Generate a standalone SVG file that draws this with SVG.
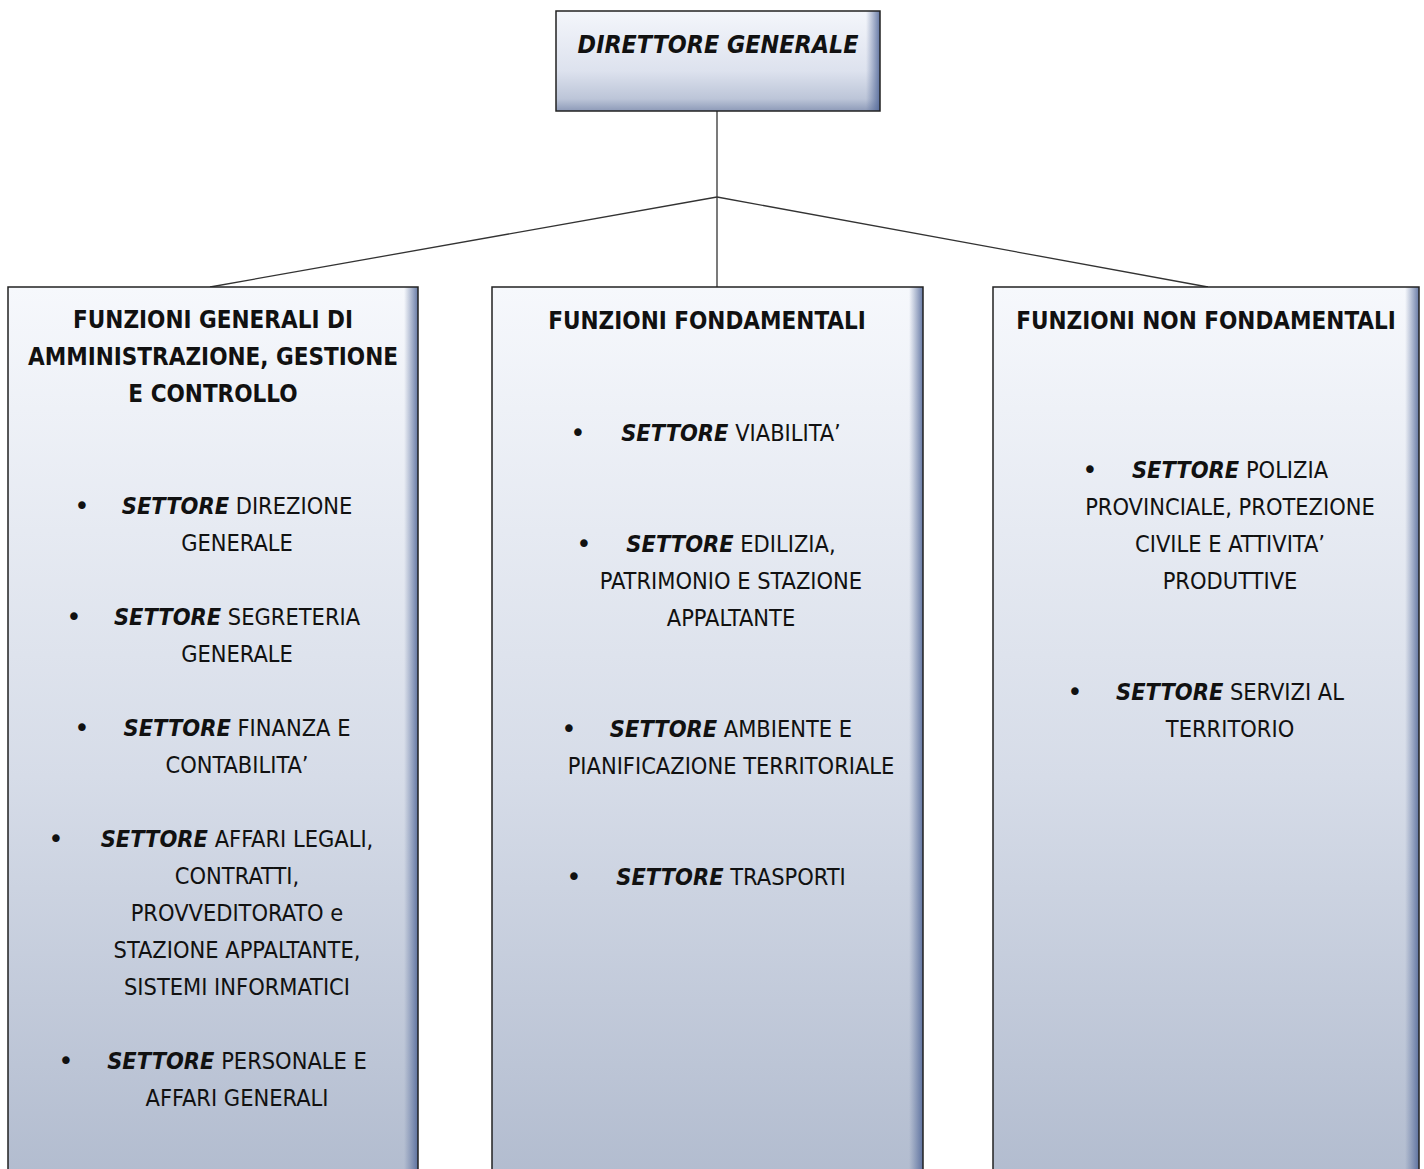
<svg xmlns="http://www.w3.org/2000/svg" width="1424" height="1169" viewBox="0 0 1424 1169">
<defs>
<linearGradient id="gv" x1="0" y1="0" x2="0" y2="1">
<stop offset="0" stop-color="#f6f8fc"/>
<stop offset="0.55" stop-color="#d6dce8"/>
<stop offset="1" stop-color="#b2bccf"/>
</linearGradient>
<linearGradient id="gvt" x1="0" y1="0" x2="0" y2="1">
<stop offset="0" stop-color="#f4f6fb"/>
<stop offset="0.6" stop-color="#dde2ee"/>
<stop offset="0.88" stop-color="#bcc5d8"/>
<stop offset="1" stop-color="#8d9ab8"/>
</linearGradient>
<linearGradient id="gr" x1="0" y1="0" x2="1" y2="0">
<stop offset="0" stop-color="#5a6f9c" stop-opacity="0"/>
<stop offset="1" stop-color="#4d6396" stop-opacity="0.85"/>
</linearGradient>
<style>
.box{stroke:#222;stroke-width:1.5}
.t{font-family:"DejaVu Sans Condensed","DejaVu Sans",sans-serif;font-size:23.4px;fill:#111;text-anchor:middle}
.h{font-weight:bold;font-size:24px}
.i{font-style:italic;font-weight:bold}
.ti{font-size:24.8px}
.b{font-family:"DejaVu Sans",sans-serif;font-size:26px;fill:#111;text-anchor:middle}
.c{stroke:#333;stroke-width:1.3;fill:none}
</style>
</defs>
<g id="connectors">
<line class="c" x1="717" y1="111" x2="717" y2="197"/>
<line class="c" x1="717" y1="197" x2="210" y2="287"/>
<line class="c" x1="717" y1="197" x2="717" y2="287"/>
<line class="c" x1="717" y1="197" x2="1208" y2="287"/>
</g>
<g id="direttore">
<rect x="556" y="11" width="324" height="100" fill="url(#gvt)"/>
<rect x="866" y="11" width="14" height="100" fill="url(#gr)"/>
<rect class="box" x="556" y="11" width="324" height="100" fill="none"/>
<text class="t i ti" x="718" y="53">DIRETTORE GENERALE</text>
</g>
<g id="funzioni-generali">
<rect x="8" y="287" width="410" height="890" fill="url(#gv)"/>
<rect x="404" y="287" width="14" height="890" fill="url(#gr)"/>
<rect class="box" x="8" y="287" width="410" height="890" fill="none"/>
<text class="t h" x="213" y="328">FUNZIONI GENERALI DI</text>
<text class="t h" x="213" y="365">AMMINISTRAZIONE, GESTIONE</text>
<text class="t h" x="213" y="402">E CONTROLLO</text>
<text class="b" x="82" y="515">•</text>
<text class="t" x="237" y="514"><tspan class="i">SETTORE</tspan> DIREZIONE</text>
<text class="t" x="237" y="551">GENERALE</text>
<text class="b" x="74" y="626">•</text>
<text class="t" x="237" y="625"><tspan class="i">SETTORE</tspan> SEGRETERIA</text>
<text class="t" x="237" y="662">GENERALE</text>
<text class="b" x="82" y="737">•</text>
<text class="t" x="237" y="736"><tspan class="i">SETTORE</tspan> FINANZA E</text>
<text class="t" x="237" y="773">CONTABILITA’</text>
<text class="b" x="56" y="848">•</text>
<text class="t" x="237" y="847"><tspan class="i">SETTORE</tspan> AFFARI LEGALI,</text>
<text class="t" x="237" y="884">CONTRATTI,</text>
<text class="t" x="237" y="921">PROVVEDITORATO e</text>
<text class="t" x="237" y="958">STAZIONE APPALTANTE,</text>
<text class="t" x="237" y="995">SISTEMI INFORMATICI</text>
<text class="b" x="66" y="1070">•</text>
<text class="t" x="237" y="1069"><tspan class="i">SETTORE</tspan> PERSONALE E</text>
<text class="t" x="237" y="1106">AFFARI GENERALI</text>
</g>
<g id="funzioni-fondamentali">
<rect x="492" y="287" width="431" height="890" fill="url(#gv)"/>
<rect x="909" y="287" width="14" height="890" fill="url(#gr)"/>
<rect class="box" x="492" y="287" width="431" height="890" fill="none"/>
<text class="t h" x="707" y="329">FUNZIONI FONDAMENTALI</text>
<text class="b" x="578" y="442">•</text>
<text class="t" x="731" y="441"><tspan class="i">SETTORE</tspan> VIABILITA’</text>
<text class="b" x="584" y="553">•</text>
<text class="t" x="731" y="552"><tspan class="i">SETTORE</tspan> EDILIZIA,</text>
<text class="t" x="731" y="589">PATRIMONIO E STAZIONE</text>
<text class="t" x="731" y="626">APPALTANTE</text>
<text class="b" x="569" y="738">•</text>
<text class="t" x="731" y="737"><tspan class="i">SETTORE</tspan> AMBIENTE E</text>
<text class="t" x="731" y="774">PIANIFICAZIONE TERRITORIALE</text>
<text class="b" x="574" y="886">•</text>
<text class="t" x="731" y="885"><tspan class="i">SETTORE</tspan> TRASPORTI</text>
</g>
<g id="funzioni-non-fondamentali">
<rect x="993" y="287" width="426" height="890" fill="url(#gv)"/>
<rect x="1405" y="287" width="14" height="890" fill="url(#gr)"/>
<rect class="box" x="993" y="287" width="426" height="890" fill="none"/>
<text class="t h" x="1206" y="329">FUNZIONI NON FONDAMENTALI</text>
<text class="b" x="1090" y="479">•</text>
<text class="t" x="1230" y="478"><tspan class="i">SETTORE</tspan> POLIZIA</text>
<text class="t" x="1230" y="515">PROVINCIALE, PROTEZIONE</text>
<text class="t" x="1230" y="552">CIVILE E ATTIVITA’</text>
<text class="t" x="1230" y="589">PRODUTTIVE</text>
<text class="b" x="1075" y="701">•</text>
<text class="t" x="1230" y="700"><tspan class="i">SETTORE</tspan> SERVIZI AL</text>
<text class="t" x="1230" y="737">TERRITORIO</text>
</g>
</svg>
